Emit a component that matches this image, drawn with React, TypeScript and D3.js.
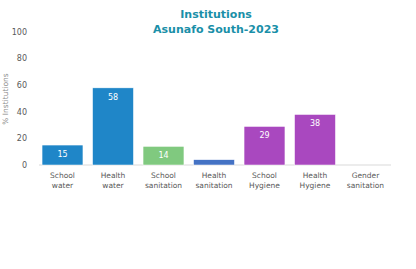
import React from 'react'
import * as d3 from 'd3'

const categories = [
    ['School', 'water'],
    ['Health', 'water'],
    ['School', 'sanitation'],
    ['Health', 'sanitation'],
    ['School', 'Hygiene'],
    ['Health', 'Hygiene'],
    ['Gender', 'sanitation'],
]
const values = [15, 58, 14, 4, 29, 38, 0]
const showLabel = [true, true, true, false, true, true, false]
const barColors = ['#1f86c8', '#1f86c8', '#80c97f', '#4472c4', '#a948bf', '#a948bf', '#a948bf']
const yTicks = [0, 20, 40, 60, 80, 100]

const App: React.FC = () => {
    const width = 416
    const height = 269
    const margin = { top: 32, right: 25, bottom: 104, left: 37 }

    const keys = categories.map((c) => c.join(' '))

    // x 밴드 스케일
    const x = d3
        .scaleBand()
        .domain(keys)
        .range([margin.left, width - margin.right])
        .paddingInner(0.19)
        .paddingOuter(0.1)

    const y = d3
        .scaleLinear()
        .domain([0, 100])
        .range([height - margin.bottom, margin.top])

    const font = "'DejaVu Sans', Verdana, sans-serif"

    return (
        <svg
            width={width}
            height={height}
            style={{ position: 'absolute', left: 0, top: 0, background: '#fff' }}
            fontFamily={font}
        >
            <text x={216} y={18} textAnchor="middle" fontSize={11} fontWeight="bold" fill="#1a8fa8">
                Institutions
            </text>
            <text x={216} y={33} textAnchor="middle" fontSize={11} fontWeight="bold" fill="#1a8fa8">
                Asunafo South-2023
            </text>

            {yTicks.map((t) => (
                <text key={t} x={27} y={y(t)} dy="0.35em" textAnchor="end" fontSize={8} fill="#595959">
                    {t}
                </text>
            ))}

            <text
                transform={`translate(8,99) rotate(-90)`}
                textAnchor="middle"
                fontSize={7.5}
                fill="#8a8a8a"
            >
                % Institutions
            </text>

            <line x1={margin.left + 2} x2={width - margin.right} y1={y(0)} y2={y(0)} stroke="#d9d9d9" />

            {keys.map((k, i) => (
                <g key={k}>
                    {values[i] > 0 && (
                        <rect
                            x={x(k) ?? 0}
                            y={y(values[i])}
                            width={x.bandwidth()}
                            height={y(0) - y(values[i])}
                            fill={barColors[i]}
                            stroke="#ffffff"
                            strokeWidth={0.5}
                        />
                    )}
                    {showLabel[i] && (
                        <text
                            x={(x(k) ?? 0) + x.bandwidth() / 2}
                            y={y(values[i]) + 12}
                            textAnchor="middle"
                            fontSize={8}
                            fill="#ffffff"
                        >
                            {values[i]}
                        </text>
                    )}
                    {categories[i].map((line, j) => (
                        <text
                            key={j}
                            x={(x(k) ?? 0) + x.bandwidth() / 2}
                            y={y(0) + 13 + j * 9.5}
                            textAnchor="middle"
                            fontSize={7.5}
                            fill="#595959"
                        >
                            {line}
                        </text>
                    ))}
                </g>
            ))}
        </svg>
    )
}

export default App
